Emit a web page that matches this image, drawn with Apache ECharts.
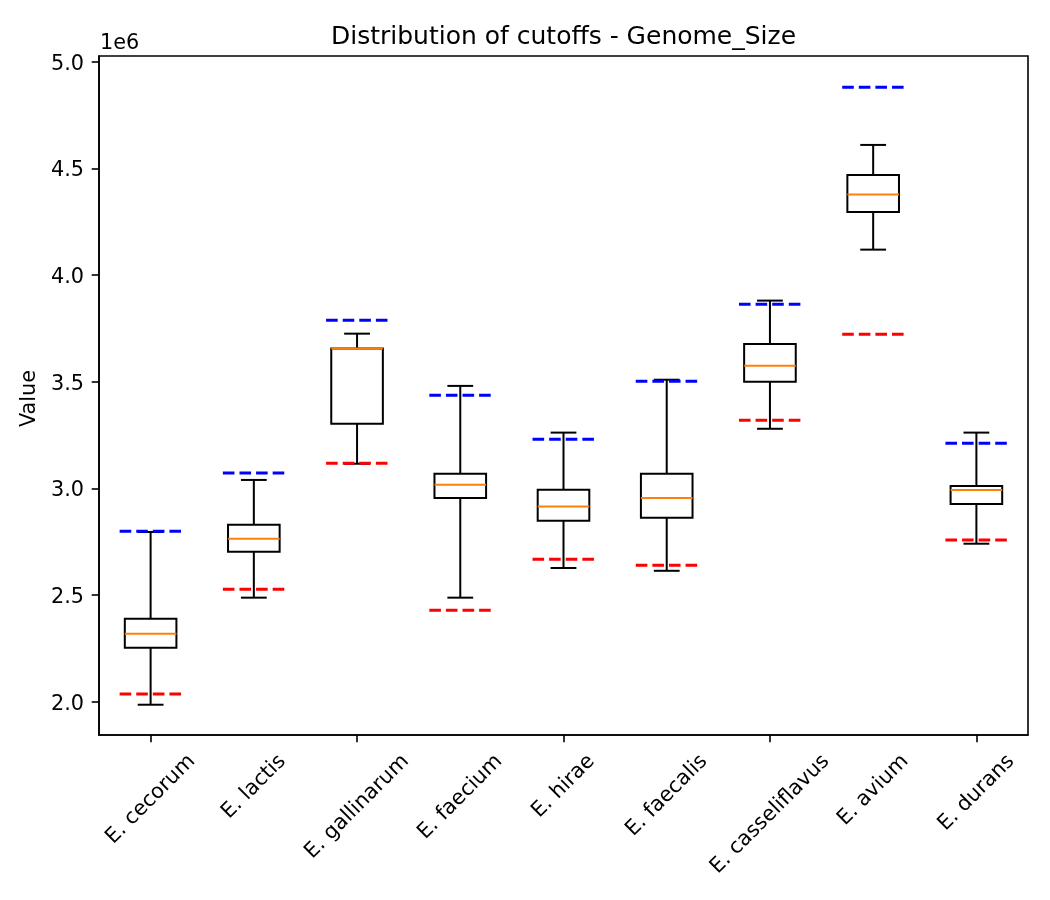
<!DOCTYPE html>
<html>
<head>
<meta charset="utf-8">
<script src="https://cdn.jsdelivr.net/npm/echarts@6/dist/echarts.min.js"></script>
<style>
html,body{margin:0;padding:0;background:#fff;}
#chart{width:1050px;height:900px;}
</style>
</head>
<body>
<div id="chart"></div>
<script>
// Values in units of 1e6
const categories = ['E. cecorum','E. lactis','E. gallinarum','E. faecium','E. hirae','E. faecalis','E. casseliflavus','E. avium','E. durans'];
const whiskerLow  = [1.986, 2.488, 3.116, 2.488, 2.627, 2.614, 3.280, 4.120, 2.741];
const q1          = [2.253, 2.703, 3.304, 2.955, 2.849, 2.863, 3.501, 4.297, 2.927];
const median      = [2.319, 2.764, 3.656, 3.018, 2.915, 2.955, 3.576, 4.378, 2.993];
const q3          = [2.389, 2.830, 3.656, 3.069, 2.994, 3.069, 3.678, 4.470, 3.012];
const whiskerHigh = [2.796, 3.040, 3.726, 3.481, 3.262, 3.510, 3.881, 4.611, 3.262];
const lowerCutoff = [2.036, 2.527, 3.118, 2.429, 2.668, 2.640, 3.320, 3.723, 2.758];
const upperCutoff = [2.799, 3.073, 3.789, 3.437, 3.231, 3.503, 3.864, 4.881, 3.212];
const yTicks = [2.0, 2.5, 3.0, 3.5, 4.0, 4.5, 5.0];
const titleText = 'Distribution of cutoffs - Genome_Size';
const yName = 'Value';
const offsetText = '1e6';

const FONT = 'DejaVu Sans';
const FS = 20.8;
const TFS = 25;

const measureCtx = document.createElement('canvas').getContext('2d');
function textWidth(t, size) {
  measureCtx.font = size + 'px "' + FONT + '"';
  return measureCtx.measureText(t).width;
}

const boxData = categories.map((_, i) => [i, whiskerLow[i], q1[i], median[i], q3[i], whiskerHigh[i], lowerCutoff[i], upperCutoff[i]]);

function renderBox(params, api) {
  const i = api.value(0);
  const band = api.size([1, 0])[0];
  const cx = api.coord([i, api.value(3)])[0];
  const y = k => api.coord([i, api.value(k)])[1];
  const yLow = y(1), yQ1 = y(2), yMed = y(3), yQ3 = y(4), yHigh = y(5), yLc = y(6), yUc = y(7);
  const bw = band * 0.5, cw = band * 0.25, dw = band * 0.6;
  const black = { stroke: '#000', lineWidth: 2, fill: null };
  const dash = (yy, color) => ({
    type: 'line',
    shape: { x1: cx - dw / 2, y1: yy, x2: cx + dw / 2, y2: yy },
    style: { stroke: color, lineWidth: 3, lineDash: [11.6, 5] },
    z2: 10
  });
  return {
    type: 'group',
    children: [
      { type: 'line', shape: { x1: cx, y1: yQ1, x2: cx, y2: yLow }, style: black },
      { type: 'line', shape: { x1: cx, y1: yQ3, x2: cx, y2: yHigh }, style: black },
      { type: 'line', shape: { x1: cx - cw / 2, y1: yLow, x2: cx + cw / 2, y2: yLow }, style: black },
      { type: 'line', shape: { x1: cx - cw / 2, y1: yHigh, x2: cx + cw / 2, y2: yHigh }, style: black },
      { type: 'rect', shape: { x: cx - bw / 2, y: yQ3, width: bw, height: yQ1 - yQ3 }, style: black },
      { type: 'line', shape: { x1: cx - bw / 2, y1: yMed, x2: cx + bw / 2, y2: yMed }, style: { stroke: '#ff7f0e', lineWidth: 2 }, z2: 5 },
      dash(yUc, '#0000ff'),
      dash(yLc, '#ff0000')
    ]
  };
}

function renderLabel(params, api) {
  const i = api.value(0);
  const cx = api.coord([i, yTicks[0]])[0];
  const bottom = params.coordSys.y + params.coordSys.height;
  const text = categories[i];
  const w = textWidth(text, FS);
  const h = FS * 1.17;
  const cy = bottom + 14.6 + (w + h) / (2 * Math.SQRT2);
  return {
    type: 'text',
    x: cx,
    y: cy,
    rotation: Math.PI / 4,
    style: { text: text, x: 0, y: 0, textAlign: 'center', textVerticalAlign: 'middle', fontSize: FS, fontFamily: FONT, fill: '#000' }
  };
}

const gridLeft = 99, gridRight = 22;
const plotCenterX = gridLeft + (1050 - gridLeft - gridRight) / 2;

const chart = echarts.init(document.getElementById('chart'), null, { renderer: 'canvas' });
chart.setOption({
  backgroundColor: '#fff',
  animation: false,
  title: {
    text: titleText,
    left: plotCenterX - textWidth(titleText, TFS) / 2,
    top: 25,
    padding: 0,
    textStyle: { fontSize: TFS, fontWeight: 'normal', fontFamily: FONT, color: '#000' }
  },
  graphic: [{
    type: 'text', left: 100, top: 33,
    style: { text: offsetText, fontSize: FS, fontFamily: FONT, fill: '#000' }
  }],
  grid: { left: gridLeft, right: gridRight, top: 56, bottom: 165, show: true, borderColor: '#000', borderWidth: 1.6, backgroundColor: 'transparent' },
  xAxis: {
    type: 'category',
    data: categories,
    boundaryGap: true,
    axisLine: { show: true, lineStyle: { color: '#000', width: 1.6 } },
    axisTick: { show: true, alignWithLabel: true, length: 7.3, lineStyle: { color: '#000', width: 1.6 } },
    axisLabel: { show: false },
    splitLine: { show: false }
  },
  yAxis: {
    type: 'value',
    min: 1.844,
    max: 5.028,
    name: yName,
    nameLocation: 'middle',
    nameGap: 56,
    nameTextStyle: { fontSize: FS, fontFamily: FONT, color: '#000', padding: [0, 6, 0, 0] },
    axisLine: { show: true, lineStyle: { color: '#000', width: 1.6 } },
    axisTick: { show: true, length: 7.3, customValues: yTicks, lineStyle: { color: '#000', width: 1.6 } },
    axisLabel: { show: true, margin: 15, customValues: yTicks, fontSize: FS, fontFamily: FONT, color: '#000', verticalAlign: 'top', lineHeight: 5, formatter: v => Number(v).toFixed(1) },
    splitLine: { show: false }
  },
  series: [
    { type: 'custom', renderItem: renderBox, data: boxData, clip: false, encode: { x: 0, y: [1, 2, 3, 4, 5, 6, 7] } },
    { type: 'custom', renderItem: renderLabel, data: categories.map((_, i) => [i, yTicks[0]]), clip: false, silent: true, encode: { x: 0, y: 1 } }
  ]
});
</script>
</body>
</html>
